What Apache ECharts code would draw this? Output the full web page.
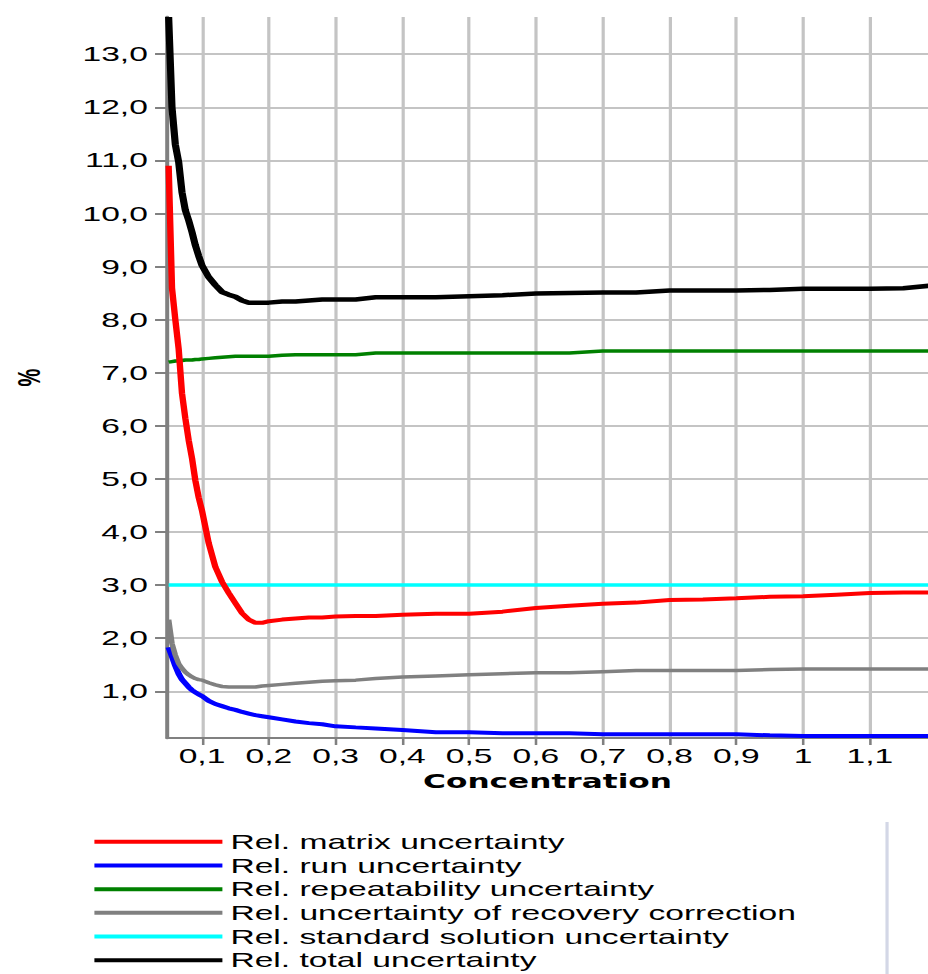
<!DOCTYPE html>
<html>
<head>
<meta charset="utf-8">
<title>Relative uncertainty</title>
<script src="https://cdn.jsdelivr.net/npm/echarts@6/dist/echarts.min.js"></script>
<style>
    html, body { margin: 0; padding: 0; background: #fff; overflow: hidden; }
    /* the reference picture is stretched sideways, so the chart is drawn narrow and widened */
    #chart { width: 580px; height: 974px; transform: scaleX(1.6); transform-origin: 0 0; }
</style>
</head>
<body>
<div id="chart"></div>
<script>
// concentration values (x)
var concentration = [0.05, 0.055, 0.06, 0.065, 0.07, 0.075, 0.08, 0.085, 0.09, 0.095,
    0.1, 0.11, 0.12, 0.13, 0.14, 0.15, 0.16, 0.17, 0.18, 0.19,
    0.2, 0.22, 0.24, 0.26, 0.28, 0.3, 0.33, 0.36, 0.4, 0.45,
    0.5, 0.55, 0.6, 0.65, 0.7, 0.75, 0.8, 0.85, 0.9, 0.95,
    1.0, 1.05, 1.1, 1.15, 1.19];

// relative uncertainties, %
var matrixUnc = [10.9, 8.6, 8.0, 7.45, 6.61, 6.14, 5.73, 5.39, 4.97, 4.65,
    4.4, 3.79, 3.34, 3.06, 2.85, 2.66, 2.47, 2.35, 2.29, 2.29,
    2.32, 2.35, 2.37, 2.39, 2.39, 2.41, 2.42, 2.42, 2.44, 2.46,
    2.46, 2.5, 2.57, 2.61, 2.65, 2.67, 2.72, 2.73, 2.75, 2.78,
    2.79, 2.82, 2.85, 2.86, 2.86];
var runUnc = [1.83, 1.66, 1.48, 1.33, 1.22, 1.15, 1.08, 1.02, 0.98, 0.94,
    0.91, 0.82, 0.76, 0.72, 0.68, 0.65, 0.61, 0.58, 0.55, 0.53,
    0.51, 0.47, 0.43, 0.4, 0.38, 0.34, 0.32, 0.3, 0.27, 0.23,
    0.23, 0.21, 0.21, 0.21, 0.19, 0.19, 0.19, 0.19, 0.19, 0.17,
    0.16, 0.16, 0.16, 0.16, 0.16];
var repeatUnc = [7.2, 7.21, 7.22, 7.22, 7.23, 7.24, 7.24, 7.24, 7.25, 7.25,
    7.26, 7.27, 7.28, 7.29, 7.3, 7.31, 7.31, 7.31, 7.31, 7.31,
    7.31, 7.33, 7.34, 7.34, 7.34, 7.34, 7.34, 7.37, 7.37, 7.37,
    7.37, 7.37, 7.37, 7.37, 7.41, 7.41, 7.41, 7.41, 7.41, 7.41,
    7.41, 7.41, 7.41, 7.41, 7.41];
var recoveryUnc = [2.35, 1.9, 1.68, 1.52, 1.43, 1.36, 1.31, 1.27, 1.24, 1.22,
    1.21, 1.16, 1.12, 1.09, 1.08, 1.08, 1.08, 1.08, 1.08, 1.1,
    1.11, 1.13, 1.15, 1.17, 1.19, 1.2, 1.21, 1.24, 1.27, 1.29,
    1.31, 1.33, 1.35, 1.35, 1.37, 1.39, 1.39, 1.39, 1.39, 1.41,
    1.42, 1.42, 1.42, 1.42, 1.42];
var standardUnc = [3.0, 3.0, 3.0, 3.0, 3.0, 3.0, 3.0, 3.0, 3.0, 3.0,
    3.0, 3.0, 3.0, 3.0, 3.0, 3.0, 3.0, 3.0, 3.0, 3.0,
    3.0, 3.0, 3.0, 3.0, 3.0, 3.0, 3.0, 3.0, 3.0, 3.0,
    3.0, 3.0, 3.0, 3.0, 3.0, 3.0, 3.0, 3.0, 3.0, 3.0,
    3.0, 3.0, 3.0, 3.0, 3.0];
var totalUnc = [13.7, 12.0, 11.3, 10.97, 10.4, 10.06, 9.87, 9.65, 9.4, 9.2,
    9.02, 8.8, 8.65, 8.52, 8.47, 8.43, 8.36, 8.32, 8.32, 8.32,
    8.32, 8.34, 8.34, 8.36, 8.38, 8.38, 8.38, 8.42, 8.42, 8.42,
    8.44, 8.46, 8.49, 8.5, 8.51, 8.51, 8.55, 8.55, 8.55, 8.56,
    8.58, 8.58, 8.58, 8.59, 8.64];

// tick labels
var xTicks = [0.1, 0.2, 0.3, 0.4, 0.5, 0.6, 0.7, 0.8, 0.9, 1, 1.1];
var yTicks = [1, 2, 3, 4, 5, 6, 7, 8, 9, 10, 11, 12, 13];

var seriesNames = ["Rel. matrix uncertainty", "Rel. run uncertainty", "Rel. repeatability uncertainty",
    "Rel. uncertainty of recovery correction", "Rel. standard solution uncertainty", "Rel. total uncertainty"];
var seriesValues = [matrixUnc, runUnc, repeatUnc, recoveryUnc, standardUnc, totalUnc];
var seriesColors = ["#ff0000", "#0000ff", "#008000", "#808080", "#00ffff", "#000000"];
var seriesWidths = [4, 4, 3.5, 3.5, 3.5, 4.5];

var font = "'Liberation Sans', Arial, sans-serif";

function pairs(values) {
    return concentration.map(function (x, i) {
        return [x, values[i]];
    });
}

var myChart = echarts.init(document.getElementById("chart"), null, {renderer: "svg"});

var series = seriesNames.map(function (name, i) {
    return {
        name: name,
        type: "line",
        data: pairs(seriesValues[i]),
        showSymbol: false,
        symbol: "none",
        color: seriesColors[i],
        lineStyle: {color: seriesColors[i], width: seriesWidths[i]},
        z: i === 0 ? 3 : 2
    };
});

var option = {
    animation: false,
    backgroundColor: "#ffffff",
    textStyle: {fontFamily: font},
    grid: {left: 104.4, right: 0, top: 17, bottom: 236},
    xAxis: {
        type: "value",
        min: 0.0476,
        max: 1.187,
        name: "Concentration",
        nameLocation: "middle",
        nameGap: 31,
        nameTextStyle: {fontFamily: "'DejaVu Sans', sans-serif", fontWeight: "bold", fontSize: 19.5, color: "#000"},
        axisLine: {onZero: false, lineStyle: {color: "#808080", width: 2}},
        axisTick: {customValues: xTicks, length: 7, lineStyle: {color: "#808080", width: 1.6}},
        axisLabel: {
            customValues: xTicks,
            margin: 7,
            fontSize: 21,
            color: "#000",
            formatter: function (v) { return String(v).replace(".", ","); }
        },
        splitLine: {show: true, lineStyle: {color: "#c4c4c4", width: 2}}
    },
    yAxis: {
        type: "value",
        min: 0.12,
        max: 13.7,
        name: "%",
        nameLocation: "middle",
        nameGap: 76,
        nameTextStyle: {fontWeight: "bold", fontSize: 20, color: "#000"},
        axisLine: {show: true, onZero: false, lineStyle: {color: "#808080", width: 2.5}},
        axisTick: {show: true, customValues: yTicks, length: 7.5, lineStyle: {color: "#808080", width: 2}},
        axisLabel: {
            customValues: yTicks,
            margin: 12,
            fontSize: 21,
            color: "#000",
            formatter: function (v) { return v.toFixed(1).replace(".", ","); }
        },
        splitLine: {show: true, lineStyle: {color: "#c4c4c4", width: 2}}
    },
    legend: {
        orient: "vertical",
        left: 54,
        top: 825,
        height: 160,
        icon: "rect",
        itemWidth: 80,
        itemHeight: 4,
        itemGap: 0.2,
        data: seriesNames,
        textStyle: {fontSize: 21, lineHeight: 23.5, color: "#000", fontFamily: font}
    },
    graphic: [{
        type: "line",
        shape: {x1: 554.4, y1: 822, x2: 554.4, y2: 974},
        style: {stroke: "#d3d7e6", lineWidth: 2}
    }],
    series: series
};

myChart.setOption(option);
</script>
</body>
</html>
